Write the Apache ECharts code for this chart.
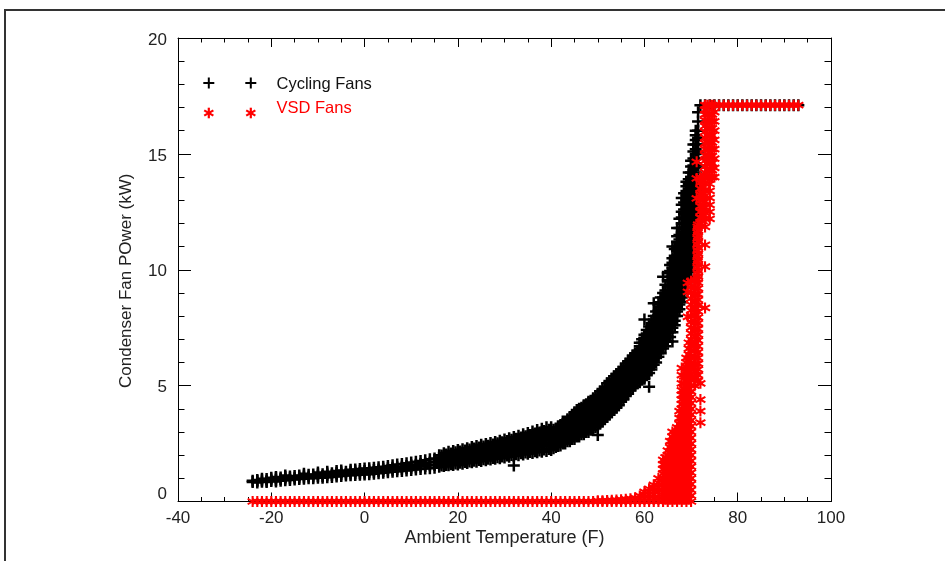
<!DOCTYPE html>
<html>
<head>
<meta charset="utf-8">
<script src="https://cdn.jsdelivr.net/npm/echarts@6/dist/echarts.min.js"></script>
<style>
  html, body { margin: 0; padding: 0; background: #fff; }
  #chart { width: 945px; height: 561px; }
</style>
</head>
<body>
<div id="chart"></div>
<script>
// axis ranges
const xRange = [-40, 100];
const yRange = [0, 20];
const seriesNames = ["Cycling Fans", "VSD Fans"];

// [ambient temperature (F), [condenser fan power readings (kW)]]
const cyclingFans = [
  [-24, [0.84, 0.9]], [-23, [0.82, 0.88, 0.93]], [-22, [0.85, 0.92, 0.98]],
  [-21, [0.84, 0.9, 0.97]], [-20, [0.88, 0.95, 1.02]], [-19, [0.86, 0.93, 1.0, 1.06]],
  [-18, [0.9, 0.97, 1.04]], [-17, [0.92, 0.99, 1.06, 1.12]], [-16, [0.93, 1.0, 1.08]],
  [-15, [0.95, 1.02, 1.1]], [-14, [0.97, 1.04, 1.12]], [-13, [0.98, 1.05, 1.12, 1.2]],
  [-12, [1.0, 1.08, 1.15]], [-11, [1.0, 1.08, 1.16]], [-10, [1.02, 1.1, 1.18, 1.25]],
  [-9, [1.03, 1.1, 1.18]], [-8, [1.05, 1.13, 1.21, 1.28]], [-7, [1.06, 1.14, 1.22]],
  [-6, [1.08, 1.16, 1.24, 1.32]], [-5, [1.1, 1.18, 1.26, 1.34]], [-4, [1.12, 1.2, 1.28]],
  [-3, [1.13, 1.21, 1.29, 1.37]], [-2, [1.14, 1.22, 1.3, 1.38]], [-1, [1.15, 1.23, 1.31, 1.4]],
  [0, [1.16, 1.24, 1.32, 1.42]], [1, [1.18, 1.26, 1.34, 1.44]], [2, [1.2, 1.28, 1.36, 1.46]],
  [3, [1.22, 1.3, 1.38, 1.48]], [4, [1.24, 1.32, 1.41, 1.5]], [5, [1.26, 1.34, 1.43, 1.53]],
  [6, [1.28, 1.37, 1.46, 1.56]], [7, [1.3, 1.39, 1.48, 1.6]], [8, [1.32, 1.41, 1.5, 1.62]],
  [9, [1.34, 1.43, 1.53, 1.65]], [10, [1.36, 1.46, 1.56, 1.68]], [11, [1.38, 1.48, 1.59, 1.72]],
  [12, [1.4, 1.51, 1.62, 1.75]], [13, [1.42, 1.53, 1.65, 1.78]], [14, [1.44, 1.56, 1.68, 1.82]],
  [15, [1.46, 1.58, 1.71, 1.86]], [16, [1.5, 1.62, 1.75, 1.9, 2.0]], [17, [1.53, 1.65, 1.78, 1.93, 2.08]],
  [18, [1.56, 1.68, 1.82, 1.97, 2.15]], [19, [1.58, 1.71, 1.85, 2.0, 2.18]], [20, [1.6, 1.74, 1.88, 2.04, 2.22]],
  [21, [1.63, 1.77, 1.92, 2.08, 2.25]], [22, [1.66, 1.8, 1.95, 2.12, 2.3]], [23, [1.69, 1.84, 1.99, 2.16, 2.35]],
  [24, [1.72, 1.87, 2.03, 2.2, 2.4]], [25, [1.75, 1.9, 2.07, 2.25, 2.45]], [26, [1.78, 1.94, 2.11, 2.29, 2.48]],
  [27, [1.81, 1.97, 2.15, 2.33, 2.52]], [28, [1.84, 2.01, 2.19, 2.38, 2.57]], [29, [1.87, 2.05, 2.23, 2.42, 2.62]],
  [30, [1.9, 2.08, 2.27, 2.47, 2.68]], [31, [1.93, 2.12, 2.31, 2.52, 2.73]], [32, [1.55, 1.96, 2.15, 2.36, 2.57, 2.78]],
  [33, [2.0, 2.19, 2.4, 2.62, 2.84]], [34, [2.03, 2.23, 2.45, 2.67, 2.9]], [35, [2.06, 2.27, 2.5, 2.72, 2.96]],
  [36, [2.09, 2.31, 2.54, 2.78, 3.02]], [37, [2.12, 2.35, 2.59, 2.84, 3.08]], [38, [2.15, 2.39, 2.64, 2.9, 3.14]],
  [39, [2.18, 2.43, 2.69, 2.96, 3.2]], [40, [2.22, 2.48, 2.75, 3.0, 3.2]],
  [41, [2.35, 2.52, 2.69, 2.86, 3.02, 3.15]], [42, [2.42, 2.6, 2.78, 2.96, 3.13, 3.3]],
  [43, [2.5, 2.69, 2.88, 3.07, 3.26, 3.45]], [44, [2.6, 2.8, 3.0, 3.2, 3.4, 3.6]],
  [45, [2.7, 2.9, 3.1, 3.3, 3.5, 3.68, 3.85]], [46, [2.8, 3.0, 3.2, 3.4, 3.6, 3.8, 4.0]],
  [47, [2.9, 3.1, 3.3, 3.5, 3.7, 3.9, 4.15]], [48, [3.0, 3.2, 3.4, 3.6, 3.8, 4.0, 4.15, 4.3]],
  [49, [3.1, 3.3, 3.5, 3.7, 3.9, 4.1, 4.28, 4.45]],
  [50, [2.87, 3.25, 3.45, 3.65, 3.85, 4.05, 4.25, 4.42, 4.6]],
  [51, [3.45, 3.65, 3.85, 4.05, 4.25, 4.45, 4.65, 4.85]],
  [52, [3.65, 3.85, 4.05, 4.25, 4.45, 4.65, 4.85, 5.1]],
  [53, [3.85, 4.05, 4.25, 4.45, 4.65, 4.85, 5.07, 5.3]],
  [54, [4.05, 4.25, 4.45, 4.65, 4.85, 5.05, 5.27, 5.5]],
  [55, [4.3, 4.5, 4.7, 4.9, 5.1, 5.3, 5.5, 5.7]],
  [56, [4.55, 4.75, 4.95, 5.15, 5.35, 5.55, 5.75, 5.95]],
  [57, [4.8, 5.0, 5.2, 5.4, 5.6, 5.8, 6.0, 6.15]],
  [58, [5.0, 5.2, 5.4, 5.6, 5.8, 6.0, 6.2, 6.4]],
  [59, [5.15, 5.35, 5.55, 5.75, 5.95, 6.15, 6.35, 6.55, 6.7, 6.85]],
  [60, [5.3, 5.5, 5.7, 5.9, 6.1, 6.3, 6.5, 6.7, 6.9, 7.05, 7.2, 7.85]],
  [61, [4.95, 5.55, 5.75, 5.95, 6.15, 6.35, 6.55, 6.75, 6.95, 7.15, 7.35, 7.55]],
  [62, [5.9, 6.1, 6.3, 6.5, 6.7, 6.9, 7.1, 7.3, 7.5, 7.7, 7.85, 8.0, 8.55]],
  [63, [6.25, 6.45, 6.65, 6.85, 7.05, 7.25, 7.45, 7.65, 7.85, 8.05, 8.25, 8.5]],
  [64, [6.6, 6.8, 7.0, 7.2, 7.4, 7.6, 7.8, 8.0, 8.2, 8.4, 8.6, 8.8, 9.0, 9.7]],
  [65, [6.9, 7.1, 7.3, 7.5, 7.7, 7.9, 8.1, 8.3, 8.5, 8.7, 8.9, 9.1, 9.3, 9.55, 9.85]],
  [66, [6.9, 7.3, 7.5, 7.7, 7.9, 8.1, 8.3, 8.5, 8.7, 8.9, 9.1, 9.3, 9.5, 9.7, 9.9, 10.1, 10.3, 10.5, 11.0]],
  [67, [8.0, 8.2, 8.4, 8.6, 8.8, 9.0, 9.2, 9.4, 9.6, 9.8, 10.0, 10.2, 10.4, 10.6, 10.8, 11.0, 11.2, 11.45, 11.8]],
  [68, [8.6, 8.8, 9.0, 9.2, 9.4, 9.6, 9.8, 10.0, 10.2, 10.4, 10.6, 10.8, 11.0, 11.2, 11.4, 11.6, 11.8, 12.0, 12.25, 12.5, 12.8, 13.1]],
  [69, [9.4, 9.6, 9.8, 10.0, 10.2, 10.4, 10.6, 10.8, 11.0, 11.2, 11.4, 11.6, 11.8, 12.0, 12.2, 12.4, 12.6, 12.8, 13.0, 13.2, 13.4, 13.6, 13.8]],
  [70, [10.0, 10.2, 10.4, 10.6, 10.8, 11.0, 11.2, 11.4, 11.6, 11.8, 12.0, 12.2, 12.4, 12.6, 12.8, 13.0, 13.2, 13.4, 13.6, 13.8, 14.0, 14.2, 14.45, 14.7]],
  [71, [11.0, 11.2, 11.4, 11.6, 11.8, 12.0, 12.2, 12.4, 12.6, 12.8, 13.0, 13.2, 13.4, 13.6, 13.8, 14.0, 14.2, 14.4, 14.6, 14.8, 15.0, 15.2, 15.4, 15.6, 15.8, 16.0]],
  [71.5, [14.5, 14.8, 15.1, 15.4, 15.7, 16.0, 16.4, 16.8]],
  [72, [17.1]], [73, [17.1]], [74, [17.1]], [75, [17.1]], [76, [17.1]], [77, [17.1]],
  [78, [17.1]], [79, [17.1]], [80, [17.1]], [81, [17.1]], [82, [17.1]], [83, [17.1]],
  [84, [17.1]], [85, [17.1]], [86, [17.1]], [87, [17.1]], [88, [17.1]], [89, [17.1]],
  [90, [17.1]], [91, [17.1]], [92, [17.1]], [93, [17.1]]
];

// readings logged between whole degrees (fills the dense part of the band)
const cyclingFansBetween = [
  [16.5, [1.55, 1.69, 1.83, 1.98]], [17.5, [1.58, 1.72, 1.87, 2.03]], [18.5, [1.61, 1.76, 1.91, 2.07]],
  [19.5, [1.64, 1.79, 1.95, 2.12]], [20.5, [1.67, 1.82, 1.98, 2.16]], [21.5, [1.7, 1.86, 2.02, 2.2]],
  [22.5, [1.73, 1.89, 2.06, 2.24]], [23.5, [1.76, 1.93, 2.1, 2.29]], [24.5, [1.79, 1.96, 2.14, 2.33]],
  [25.5, [1.82, 2.0, 2.18, 2.37]], [26.5, [1.85, 2.03, 2.22, 2.41]], [27.5, [1.88, 2.07, 2.26, 2.46]],
  [28.5, [1.91, 2.1, 2.3, 2.51]], [29.5, [1.94, 2.14, 2.35, 2.56]], [30.5, [1.98, 2.18, 2.39, 2.61]],
  [31.5, [2.01, 2.22, 2.44, 2.66]], [32.5, [2.04, 2.26, 2.48, 2.71]], [33.5, [2.08, 2.3, 2.53, 2.76]],
  [34.5, [2.11, 2.34, 2.58, 2.82]], [35.5, [2.14, 2.38, 2.62, 2.87]], [36.5, [2.17, 2.42, 2.67, 2.93]],
  [37.5, [2.2, 2.46, 2.72, 2.98]], [38.5, [2.24, 2.5, 2.77, 3.04]], [39.5, [2.27, 2.54, 2.82, 3.1]],
  [40.5, [2.3, 2.5, 2.7, 2.9, 3.1]], [41.5, [2.4, 2.6, 2.8, 3.0, 3.2]],
  [42.5, [2.5, 2.7, 2.9, 3.1, 3.3, 3.45]], [43.5, [2.6, 2.8, 3.0, 3.2, 3.4, 3.55]],
  [44.5, [2.7, 2.9, 3.1, 3.3, 3.5, 3.7]], [45.5, [2.8, 3.0, 3.2, 3.4, 3.6, 3.8, 3.95]],
  [46.5, [2.9, 3.1, 3.3, 3.5, 3.7, 3.9, 4.05]], [47.5, [3.0, 3.2, 3.4, 3.6, 3.8, 4.0, 4.2]],
  [48.5, [3.1, 3.3, 3.5, 3.7, 3.9, 4.1, 4.3]], [49.5, [3.2, 3.4, 3.6, 3.8, 4.0, 4.2, 4.4, 4.55]],
  [50.5, [3.35, 3.55, 3.75, 3.95, 4.15, 4.35, 4.55, 4.75]],
  [51.5, [3.55, 3.75, 3.95, 4.15, 4.35, 4.55, 4.75, 4.95]],
  [52.5, [3.75, 3.95, 4.15, 4.35, 4.55, 4.75, 4.95, 5.2]],
  [53.5, [3.95, 4.15, 4.35, 4.55, 4.75, 4.95, 5.15, 5.4]],
  [54.5, [4.15, 4.35, 4.55, 4.75, 4.95, 5.15, 5.35, 5.6]],
  [55.5, [4.4, 4.6, 4.8, 5.0, 5.2, 5.4, 5.6, 5.8]],
  [56.5, [4.65, 4.85, 5.05, 5.25, 5.45, 5.65, 5.85, 6.05]],
  [57.5, [4.9, 5.1, 5.3, 5.5, 5.7, 5.9, 6.1, 6.3]],
  [58.5, [5.1, 5.3, 5.5, 5.7, 5.9, 6.1, 6.3, 6.5]],
  [59.5, [5.25, 5.45, 5.65, 5.85, 6.05, 6.25, 6.45, 6.65, 6.85, 7.0]],
  [60.5, [5.45, 5.65, 5.85, 6.05, 6.25, 6.45, 6.65, 6.85, 7.05, 7.25, 7.4]],
  [61.5, [5.7, 5.9, 6.1, 6.3, 6.5, 6.7, 6.9, 7.1, 7.3, 7.5, 7.7]],
  [62.5, [6.0, 6.2, 6.4, 6.6, 6.8, 7.0, 7.2, 7.4, 7.6, 7.8, 8.0, 8.2]],
  [63.5, [6.4, 6.6, 6.8, 7.0, 7.2, 7.4, 7.6, 7.8, 8.0, 8.2, 8.4, 8.6, 8.8]],
  [64.5, [6.7, 6.9, 7.1, 7.3, 7.5, 7.7, 7.9, 8.1, 8.3, 8.5, 8.7, 8.9, 9.1, 9.35]],
  [65.5, [7.1, 7.3, 7.5, 7.7, 7.9, 8.1, 8.3, 8.5, 8.7, 8.9, 9.1, 9.3, 9.5, 9.7, 9.95, 10.2]],
  [66.5, [7.6, 7.8, 8.0, 8.2, 8.4, 8.6, 8.8, 9.0, 9.2, 9.4, 9.6, 9.8, 10.0, 10.2, 10.4, 10.6, 10.9]],
  [67.5, [8.3, 8.5, 8.7, 8.9, 9.1, 9.3, 9.5, 9.7, 9.9, 10.1, 10.3, 10.5, 10.7, 10.9, 11.1, 11.3, 11.5, 11.8, 12.2]],
  [68.5, [9.0, 9.2, 9.4, 9.6, 9.8, 10.0, 10.2, 10.4, 10.6, 10.8, 11.0, 11.2, 11.4, 11.6, 11.8, 12.0, 12.2, 12.4, 12.6, 12.9, 13.3]],
  [69.5, [9.7, 9.9, 10.1, 10.3, 10.5, 10.7, 10.9, 11.1, 11.3, 11.5, 11.7, 11.9, 12.1, 12.3, 12.5, 12.7, 12.9, 13.1, 13.3, 13.5, 13.7, 13.9, 14.2]],
  [70.5, [10.5, 10.7, 10.9, 11.1, 11.3, 11.5, 11.7, 11.9, 12.1, 12.3, 12.5, 12.7, 12.9, 13.1, 13.3, 13.5, 13.7, 13.9, 14.1, 14.3, 14.5, 14.8, 15.1, 15.4]]
];

const vsdFans = [
  [-24, [0]], [-23, [0]], [-22, [0]], [-21, [0]], [-20, [0]], [-19, [0]], [-18, [0]], [-17, [0]],
  [-16, [0]], [-15, [0]], [-14, [0]], [-13, [0]], [-12, [0]], [-11, [0]], [-10, [0]], [-9, [0]],
  [-8, [0]], [-7, [0]], [-6, [0]], [-5, [0]], [-4, [0]], [-3, [0]], [-2, [0]], [-1, [0]],
  [0, [0]], [1, [0]], [2, [0]], [3, [0]], [4, [0]], [5, [0]], [6, [0]], [7, [0]],
  [8, [0]], [9, [0]], [10, [0]], [11, [0]], [12, [0]], [13, [0]], [14, [0]], [15, [0]],
  [16, [0]], [17, [0]], [18, [0]], [19, [0]], [20, [0]], [21, [0]], [22, [0]], [23, [0]],
  [24, [0]], [25, [0]], [26, [0]], [27, [0]], [28, [0]], [29, [0]], [30, [0]], [31, [0]],
  [32, [0]], [33, [0]], [34, [0]], [35, [0]], [36, [0]], [37, [0]], [38, [0]], [39, [0]],
  [40, [0]], [41, [0]], [42, [0]], [43, [0]], [44, [0]], [45, [0]], [46, [0]], [47, [0]],
  [48, [0]], [49, [0]], [50, [0, 0.03]], [51, [0, 0.03]], [52, [0, 0.04]], [53, [0, 0.05]],
  [54, [0, 0.06]], [55, [0, 0.08]], [56, [0, 0.1]], [57, [0, 0.12]], [58, [0, 0.16]],
  [59, [0, 0.12, 0.24]], [60, [0, 0.15, 0.3, 0.42]], [61, [0, 0.15, 0.3, 0.45, 0.55]],
  [62, [0, 0.15, 0.3, 0.45, 0.6, 0.72]], [63, [0, 0.2, 0.4, 0.6, 0.8, 1.0]],
  [64, [0, 0.2, 0.4, 0.6, 0.8, 1.0, 1.2, 1.4, 1.6, 1.8]],
  [64.5, [0.1, 0.35, 0.6, 0.85, 1.1, 1.35, 1.6, 1.9]],
  [65, [0, 0.2, 0.4, 0.6, 0.8, 1.0, 1.2, 1.4, 1.6, 1.8, 2.0, 2.2]],
  [65.5, [0.1, 0.35, 0.6, 0.85, 1.1, 1.35, 1.6, 1.85, 2.1, 2.35, 2.6]],
  [66, [0, 0.2, 0.4, 0.6, 0.8, 1.0, 1.2, 1.4, 1.6, 1.9, 2.1, 2.2, 2.4, 2.6, 2.8, 3.0]],
  [66.5, [0.1, 0.35, 0.6, 0.85, 1.1, 1.35, 1.6, 1.85, 2.1, 2.35, 2.6, 2.9]],
  [67, [0, 0.2, 0.4, 0.6, 0.8, 1.0, 1.2, 1.4, 1.6, 1.8, 2.0, 2.2, 2.4, 2.6, 2.8, 3.0, 3.2]],
  [67.5, [0.1, 0.35, 0.6, 0.85, 1.1, 1.35, 1.6, 1.85, 2.1, 2.35, 2.6, 2.85, 3.1, 3.35, 3.6, 3.9]],
  [68, [0, 0.2, 0.4, 0.6, 0.8, 1.0, 1.2, 1.4, 1.6, 1.8, 2.0, 2.2, 2.4, 2.6, 2.8, 3.0, 3.2, 3.4, 3.6, 3.8, 4.0, 4.2, 4.4, 4.6, 4.8, 5.1, 5.45, 5.76]],
  [68.5, [0.1, 0.35, 0.6, 0.85, 1.1, 1.35, 1.6, 1.85, 2.1, 2.35, 2.6, 2.85, 3.1, 3.35, 3.6, 3.85, 4.1, 4.35, 4.6, 4.85, 5.1, 5.4]],
  [69, [0, 0.2, 0.4, 0.6, 0.8, 1.0, 1.2, 1.4, 1.6, 1.8, 2.0, 2.2, 2.4, 2.6, 2.8, 3.0, 3.2, 3.4, 3.6, 3.8, 4.0, 4.2, 4.4, 4.6, 4.8, 5.0, 5.2, 5.4, 5.6, 5.8, 6.0, 6.2]],
  [69.3, [7.97, 9.05, 9.43]],
  [69.5, [0.1, 0.35, 0.6, 0.85, 1.1, 1.35, 1.6, 1.85, 2.1, 2.35, 2.6, 2.85, 3.1, 3.35, 3.6, 3.85, 4.1, 4.35, 4.6, 4.85, 5.1, 5.35, 5.6, 5.85, 6.1, 6.35, 6.6, 6.85]],
  [70, [0, 0.25, 0.5, 0.75, 1.0, 1.25, 1.5, 1.75, 2.0, 2.25, 2.5, 2.75, 3.0, 3.25, 3.5, 3.75, 4.0, 4.25, 4.5, 4.75, 5.0, 5.25, 5.5, 5.75, 6.0, 6.25, 6.5, 6.75, 7.0, 7.25, 7.5, 7.75, 8.0, 8.25, 8.5, 8.75, 9.0, 9.25, 9.5]],
  [70.75, [5.0, 5.3, 5.6, 5.9, 6.2, 6.5, 6.8, 7.1, 7.4, 7.7, 8.0, 8.3, 8.6, 8.9, 9.2, 9.5]],
  [71, [5.35, 5.65, 5.95, 6.25, 6.55, 6.85, 7.15, 7.45, 7.75, 8.05, 8.35, 8.65, 8.95, 9.25, 9.55]],
  [71.2, [13.08, 13.94, 14.66]],
  [71.4, [9.6, 9.85, 10.1, 10.35, 10.6, 10.85, 11.1, 11.35, 11.6, 11.85]],
  [71.5, [5.2, 5.45, 5.7, 5.95, 6.2, 6.45, 6.7, 6.95, 7.2, 7.45, 7.7, 7.95, 8.2, 8.45, 8.7, 8.95, 9.2, 9.45, 9.7, 9.95, 10.2, 10.45, 10.7, 10.95, 11.2, 11.45, 11.7, 11.95]],
  [72, [3.4, 3.9, 4.4, 5.1, 12.0, 12.25, 12.5, 12.75, 13.0, 13.25, 13.5, 13.75, 14.0]],
  [72.5, [12.1, 12.4, 12.7, 13.0, 13.3, 13.6, 13.9]],
  [73, [8.35, 10.13, 11.07, 11.85, 12.2, 12.45, 12.7, 12.95, 13.2, 13.45, 13.7, 13.95, 14.2, 14.45, 14.7, 14.95, 15.2, 15.45, 15.7, 15.95, 16.2, 16.45, 16.7, 16.9, 17.1]],
  [73.5, [14.0, 14.3, 14.6, 14.9, 15.2, 15.5, 15.8, 16.1, 16.4, 16.7, 17.1]],
  [74, [12.2, 12.5, 12.8, 13.1, 13.4, 13.7, 14.0, 14.3, 14.6, 14.9, 15.2, 15.5, 15.8, 16.1, 16.4, 16.7, 17.1]],
  [74.5, [14.0, 14.3, 14.6, 14.9, 15.2, 15.5, 15.8, 16.1, 16.4, 16.7, 17.1]],
  [75, [14.0, 14.4, 14.8, 15.2, 15.6, 16.0, 16.4, 16.8, 17.1]],
  [76, [17.1]], [77, [17.1]], [78, [17.1]], [79, [17.1]], [80, [17.1]], [81, [17.1]],
  [82, [17.1]], [83, [17.1]], [84, [17.1]], [85, [17.1]], [86, [17.1]], [87, [17.1]],
  [88, [17.1]], [89, [17.1]], [90, [17.1]], [91, [17.1]], [92, [17.1]], [93, [17.1]]
];

// filled outlines of a plus and a six-armed asterisk (12x12 box), so the stroke weight is fixed
const plusPath = "path://M4.75,0L7.25,0L7.25,4.75L12,4.75L12,7.25L7.25,7.25L7.25,12L4.75,12L4.75,7.25L0,7.25L0,4.75L4.75,4.75Z";
const starPath = "path://M4.9,0L7.1,0L7.1,12L4.9,12Z" +
  "M0.25,3.95L1.35,2.05L11.75,8.05L10.65,9.95Z" +
  "M0.25,8.05L10.65,2.05L11.75,3.95L1.35,9.95Z";
const fontFamily = "'Liberation Sans', Arial, Helvetica, sans-serif";

function toPoints(rows) {
  let pts = [];
  rows.forEach(function (r) {
    r[1].forEach(function (v) {
      pts.push([r[0], v]);
    });
  });
  return pts;
}

// legend marks drawn as short strokes (plus / asterisk)
function plusMark(cx, cy, r, color) {
  return [
    { type: "line", shape: { x1: cx - r, y1: cy, x2: cx + r, y2: cy }, style: { stroke: color, lineWidth: 2 } },
    { type: "line", shape: { x1: cx, y1: cy - r, x2: cx, y2: cy + r }, style: { stroke: color, lineWidth: 2 } }
  ];
}
function starMark(cx, cy, r, color) {
  let dx = r * 0.866, dy = r * 0.5;
  return [
    { type: "line", shape: { x1: cx, y1: cy - r, x2: cx, y2: cy + r }, style: { stroke: color, lineWidth: 2.2 } },
    { type: "line", shape: { x1: cx - dx, y1: cy - dy, x2: cx + dx, y2: cy + dy }, style: { stroke: color, lineWidth: 2.2 } },
    { type: "line", shape: { x1: cx - dx, y1: cy + dy, x2: cx + dx, y2: cy - dy }, style: { stroke: color, lineWidth: 2.2 } }
  ];
}

function axisBase(extra) {
  let base = {
    type: "value",
    axisLine: { show: true, onZero: false, lineStyle: { color: "#000", width: 1 } },
    splitLine: { show: false },
    minorSplitLine: { show: false }
  };
  return Object.assign(base, extra);
}

let chart = echarts.init(document.getElementById("chart"), null, { renderer: "canvas" });

let legendChildren = []
  .concat(plusMark(208.8, 83, 5.5, "#000"), plusMark(250.8, 83, 5.5, "#000"))
  .concat(starMark(208.8, 113, 5.3, "#ff0000"), starMark(250.8, 113, 5.3, "#ff0000"));
legendChildren.push(
  { type: "text", x: 276.5, y: 84, style: { text: seriesNames[0], fill: "#111", font: "16.5px " + fontFamily, verticalAlign: "middle" } },
  { type: "text", x: 276.5, y: 108.5, style: { text: seriesNames[1], fill: "#ff0000", font: "16.5px " + fontFamily, verticalAlign: "middle" } }
);

let option = {
  animation: false,
  backgroundColor: "#fff",
  grid: { left: 178, right: 114, top: 38, bottom: 59.5, containLabel: false },
  xAxis: [
    axisBase({
      min: xRange[0], max: xRange[1], interval: 20, position: "bottom",
      axisTick: { show: true, inside: true, length: 9, lineStyle: { color: "#000" } },
      minorTick: { show: true, splitNumber: 4, length: 4.5, lineStyle: { color: "#000" } },
      axisLabel: { margin: 8, fontSize: 17, color: "#222", fontFamily: fontFamily },
      name: "Ambient Temperature (F)", nameLocation: "middle", nameGap: 28, nameMoveOverlap: false,
      nameTextStyle: { fontSize: 18, color: "#222", fontFamily: fontFamily }
    }),
    axisBase({
      min: xRange[0], max: xRange[1], interval: 20, position: "top",
      axisTick: { show: true, inside: true, length: 9, lineStyle: { color: "#000" } },
      minorTick: { show: true, splitNumber: 4, length: 4.5, lineStyle: { color: "#000" } },
      axisLabel: { show: false }
    })
  ],
  yAxis: [
    axisBase({
      min: yRange[0], max: yRange[1], interval: 5, position: "left",
      axisTick: { show: true, inside: true, length: 13, lineStyle: { color: "#000" } },
      minorTick: { show: true, splitNumber: 5, length: 6.5, lineStyle: { color: "#000" } },
      axisLabel: {
        margin: 11, color: "#222",
        formatter: function (v) { return v === 0 ? "{zero|0}" : "{n|" + v + "}"; },
        rich: {
          zero: { fontSize: 17, color: "#222", fontFamily: fontFamily, padding: [0, 0, 15, 0] },
          n: { fontSize: 17, color: "#222", fontFamily: fontFamily, padding: [4, 0, 0, 0] }
        }
      },
      name: "Condenser Fan POwer (kW)", nameLocation: "middle", nameGap: 43, nameMoveOverlap: false,
      nameTextStyle: { fontSize: 17, color: "#222", fontFamily: fontFamily, padding: [0, 22, 0, 0] }
    }),
    axisBase({
      min: yRange[0], max: yRange[1], interval: 5, position: "right",
      axisTick: { show: true, inside: true, length: 13, lineStyle: { color: "#000" } },
      minorTick: { show: true, splitNumber: 5, length: 6.5, lineStyle: { color: "#000" } },
      axisLabel: { show: false }
    })
  ],
  graphic: [
    {
      type: "rect", z: -10, silent: true,
      shape: { x: 5, y: 10, width: 1000, height: 600 },
      style: { fill: "none", stroke: "#333", lineWidth: 2 }
    },
    { type: "group", silent: true, children: legendChildren }
  ],
  series: [
    {
      name: seriesNames[0],
      type: "scatter",
      xAxisIndex: 0, yAxisIndex: 0,
      clip: true,
      silent: true,
      symbol: plusPath,
      symbolSize: 12,
      itemStyle: { color: "#000", borderWidth: 0, opacity: 1 },
      data: toPoints(cyclingFans).concat(toPoints(cyclingFansBetween))
    },
    {
      name: seriesNames[1],
      type: "scatter",
      xAxisIndex: 0, yAxisIndex: 0,
      clip: true,
      silent: true,
      symbol: starPath,
      symbolSize: 11,
      itemStyle: { color: "#ff0000", borderWidth: 0, opacity: 1 },
      data: toPoints(vsdFans)
    }
  ]
};

if (option && typeof option === "object") chart.setOption(option);
window.addEventListener("resize", function () {
  chart.resize();
});
</script>
</body>
</html>
